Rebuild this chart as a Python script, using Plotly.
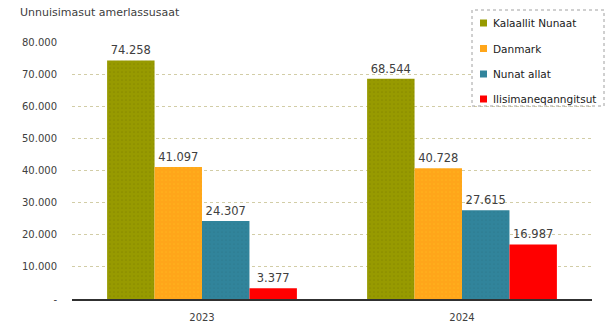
import plotly.graph_objects as go

# ---- data ----
years = ["2023", "2024"]
series_names = ["Kalaallit Nunaat", "Danmark", "Nunat allat", "Ilisimaneqanngitsut"]
kalaallit_nunaat = [74258, 68544]
danmark = [41097, 40728]
nunat_allat = [24307, 27615]
ilisimaneqanngitsut = [3377, 16987]
tick_vals = [0, 10000, 20000, 30000, 40000, 50000, 60000, 70000, 80000]
tick_text = ["-", "10.000", "20.000", "30.000", "40.000", "50.000", "60.000", "70.000", "80.000"]
title_text = "Unnuisimasut amerlassusaat"

values = [kalaallit_nunaat, danmark, nunat_allat, ilisimaneqanngitsut]
colors = ["#979A00", "#FFA61A", "#31849B", "#FF0000"]
pattern_fg = ["#7A7A00", "#FFC020", "#2A7488", "#FF0000"]

W, H = 614, 330
ML, MR, MT, MB = 72, 22, 42, 31
PW, PH = W - ML - MR, H - MT - MB

def px_x(x):
    return (x - ML) / PW

def px_y(y):
    return (H - MB - y) / PH

FONT = "DejaVu Sans"
TXT = "#404040"

fig = go.Figure()
for name, vals, c, fg in zip(series_names, values, colors, pattern_fg):
    fig.add_trace(go.Bar(
        x=years, y=vals, name=name,
        marker=dict(color=c, line=dict(width=0),
                    pattern=dict(shape="." if c != "#FF0000" else "", fgcolor=fg,
                                 size=4, solidity=0.15)),
        texttemplate="%{y:,.0f}", textposition="outside",
        textfont=dict(family=FONT, size=11.5, color=TXT),
        cliponaxis=False, showlegend=False,
    ))

fig.update_layout(
    width=W, height=H,
    margin=dict(l=ML, r=MR, t=MT, b=MB, pad=0, autoexpand=False),
    separators=",.",
    barmode="group", bargap=0.27, bargroupgap=0,
    plot_bgcolor="white", paper_bgcolor="white",
    font=dict(family=FONT, size=10, color=TXT),
    title=dict(text=title_text, x=20 / W, xanchor="left", y=1 - 12 / H, yanchor="middle",
               xref="container", yref="container",
               font=dict(family=FONT, size=11, color=TXT)),
    xaxis=dict(showgrid=False, showline=True, linecolor="#303030", linewidth=2,
               ticks="", tickfont=dict(family=FONT, size=10, color=TXT),
               ticklabelstandoff=8, automargin=False),
    yaxis=dict(range=[0, 80000], tickvals=tick_vals, ticktext=tick_text,
               showgrid=True, gridcolor="#D2CDA6", griddash="dot", gridwidth=1,
               zeroline=False, showline=False, ticks="",
               tickfont=dict(family=FONT, size=10, color=TXT),
               ticklabelstandoff=14, automargin=False),
)

# legend box (manual, dotted border)
fig.add_shape(type="rect", xref="paper", yref="paper",
              x0=px_x(472), x1=px_x(604), y0=px_y(106), y1=px_y(10),
              line=dict(color="#A0A0A0", width=1, dash="dot"),
              fillcolor="white", layer="above")
row_y = [23, 48.5, 74, 99]
for name, c, ry in zip(series_names, colors, row_y):
    fig.add_shape(type="rect", xref="paper", yref="paper",
                  x0=px_x(480), x1=px_x(487), y0=px_y(ry + 3.5), y1=px_y(ry - 3.5),
                  line=dict(width=0), fillcolor=c, layer="above")
    fig.add_annotation(xref="paper", yref="paper", x=px_x(491), y=px_y(ry),
                       xanchor="left", yanchor="middle", text=name, showarrow=False,
                       font=dict(family=FONT, size=10.5, color="#202020"))

fig.write_html("out.html")
